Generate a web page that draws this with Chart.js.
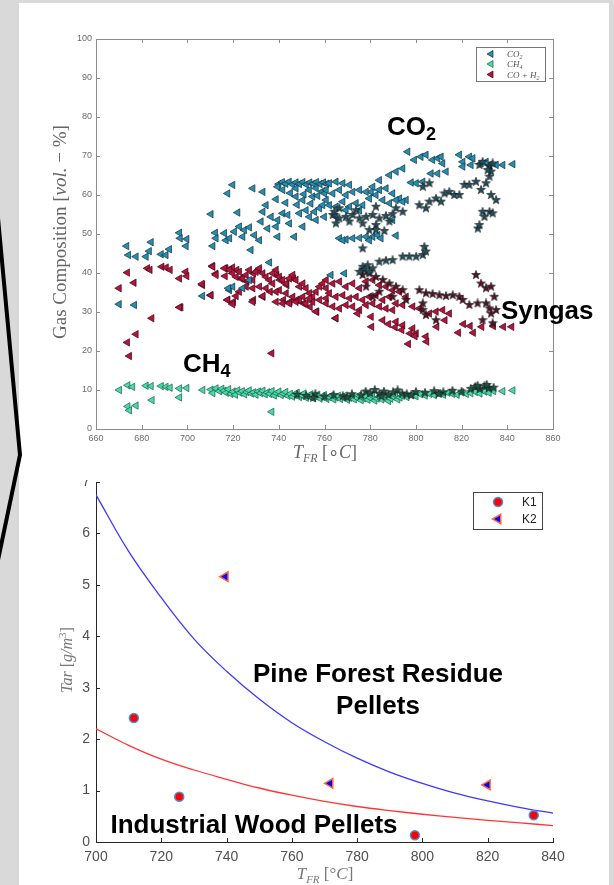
<!DOCTYPE html>
<html>
<head>
<meta charset="utf-8">
<script src="https://cdn.jsdelivr.net/npm/chart.js@4.4.0/dist/chart.umd.min.js"></script>
<style>
  html, body { margin: 0; padding: 0; }
  body { width: 614px; height: 885px; background: #d9d9d9; position: relative; overflow: hidden; }
  #panel { position: absolute; left: 19px; top: 3px; width: 590px; height: 882px; background: #fff; }
  canvas { position: absolute; left: 0; }
  #gasChart { top: 0; }
  #tarChart { top: 475px; clip-path: inset(5px 0 0 0); }
  #arrow { position: absolute; left: 0; top: 0; }
</style>
</head>
<body>
<div id="panel"></div>
<canvas id="gasChart" width="614" height="470"></canvas>
<canvas id="tarChart" width="614" height="410"></canvas>
<svg id="arrow" width="30" height="885"><polyline points="-2,218 20,455 -2,560" fill="none" stroke="#000" stroke-width="4"/></svg>
<script>
// ---- top chart: gas composition vs T_FR ----
const gasTicksX = [660, 680, 700, 720, 740, 760, 780, 800, 820, 840, 860];
const gasTicksY = [0, 10, 20, 30, 40, 50, 60, 70, 80, 90, 100];
const gasLegend = ['CO2', 'CH4', 'CO + H2'];

// CO2 (triangles) [T, vol-%]
const co2Points = [
  [673.4,46.9],[674.2,44.6],[677.5,44.2],[681.9,44.2],[684.1,47.9],[683.3,45.6],[688.5,44.8],[690.6,44.6],[692.1,46.1],
  [696.5,50.3],[696.8,48.9],[699.7,48.7],[699.4,46.9],[710.3,55.1],[711.1,46.9],[712.2,50.3],[712.5,48.9],[716.2,50.2],
  [717.6,60.4],[719.8,62.6],[716.9,48.4],[718.4,48.9],[720.5,50.6],[722.0,55.5],[722.7,51.9],[724.2,49.3],[724.9,51.0],
  [727.1,51.7],[727.8,45.9],[728.6,61.7],[729.3,49.7],[731.5,48.4],[732.2,53.2],[733.0,60.8],[733.0,55.7],[734.4,57.4],
  [735.1,51.4],[736.6,54.4],[738.8,58.9],[738.8,51.9],[739.5,53.6],
  [740,62.8],[741.5,63.3],[743,62.9],[744.5,63.4],[746,62.7],[747.5,63.2],[749,62.8],[750.5,63.3],[752,62.7],[753.5,63.2],
  [755,62.9],[756.5,63.3],[758,62.8],[759.5,63.2],[761,62.9],[739.5,62.1],[741.7,61.3],[747.5,61.7],[753.3,61.3],[756.3,61.7],[759.2,61.0],
  [741.7,55.3],[743.9,54.9],[744.6,52.7],[746.8,49.3],[747.5,59.6],[749,55.3],[750.5,58.7],[750.5,51.9],[751.9,56.1],[753.4,54.4],
  [754.8,59.6],[755.6,55.7],[756.3,53.6],[757.8,56.6],[759.2,57.4],[759.9,54.4],[739.5,49.3],[745,60.5],[751,60.2],[757,59.8],
  [760,60.4],[748,57.5],[754,57.8],[743,58.0],
  [718.4,35.6],[719.8,36.5],[727.1,38.2],[724.2,36.1],[735.9,42.7],[670.1,32.0],[676.8,31.8],[706.6,34.1],[717.9,36.1],
  [796.4,71.1],[799.3,69.0],[802.2,69.8],[804.4,70.3],[807.3,69.0],[809.5,69.4],[811,69.8],[811.7,68.1],[813.2,66.0],[809.5,65.5],
  [806.6,65.5],[803,63.4],[800.1,63.0],[797.9,63.2],[794.2,66.8],[791.3,66.0],[788.4,65.1],[784,63.8],[780.4,60.8],[819,70.3],
  [820.5,68.5],[823.4,69.8],[824.9,69.4],[824.1,67.7],[828.5,68.1],[832.2,67.7],[835.1,67.7],[838,67.7],[842.4,67.9],[830.7,68.5],[820.5,67.3],
  [762.1,63.0],[765,63.4],[768,63.0],[770.9,62.6],[760.7,61.3],[763.6,60.4],[766.5,61.3],[769.4,60.0],[772.3,60.8],[775.3,61.3],
  [778.2,60.8],[781.1,62.1],[784,61.3],[786.9,61.7],[789.8,60.4],[792.8,59.1],[795.7,58.7],[762.1,57.4],[765,57.0],[768,58.3],
  [770.9,57.0],[773.8,57.9],[776.7,57.4],[779.6,59.1],[782.5,60.0],[785.5,58.7],[788.4,57.9],[791.3,58.7],[794.2,58.3],[760.7,58.7],
  [769.4,56.1],[775.3,56.1],[765,54.4],[789.8,53.6],
  [766.5,48.9],[769.4,48.6],[772.3,48.9],[775.3,49.0],[778.2,49.3],[781.1,49.3],[783.3,49.7],[784.7,48.9],[791.3,49.6],[768,48.4],[779.6,48.4],
  [762.8,39.5],[768.7,39.9]
];
// CO2 (stars)
const co2StarPoints = [
  [763.6,54.9],[766.5,54.0],[769.4,54.4],[772.3,54.9],[775.3,54.0],[778.2,54.4],[781.1,54.9],[784,54.0],[786.9,54.6],[789.8,55.1],
  [765,52.7],[770.9,53.2],[776.7,52.7],[782.5,52.3],[788.4,53.2],[764.3,55.7],[779.6,51.0],[782.5,51.0],[786.2,50.8],[776.7,46.3],
  [791.3,56.6],[794.2,55.7],[766.5,56.6],[773.8,56.1],[782.5,57.0],
  [801.5,57.4],[804.4,56.6],[805.9,58.3],[808.8,59.1],[811,58.3],[812.5,60.4],[814.6,60.8],[816.8,60.0],[819,60.0],[821.2,62.6],
  [823.4,62.6],[826.3,63.4],[828.5,61.3],[830.7,63.0],[832.2,64.7],[832.9,60.0],[835.1,58.7],[829.2,55.7],[832.2,55.7],[833.6,55.3],
  [827.1,51.4],[827.8,52.3],[830,54.4],[827.8,67.7],[829.2,68.5],[832.2,67.3],[832.9,66.0],[833.6,68.1],[831.4,66.4],[803,62.1],[805.9,63.0],
  [784,42.9],[786.9,43.2],[789.8,43.3],[794.2,44.2],[797.1,44.2],[800.1,44.2],[803,44.6],[803.7,46.7],[804.4,45.5],
  [776.7,41.6],[778.9,42.0],[781.1,41.2],[777.4,40.8],[779.6,40.3],[775.3,40.3]
];
// CH4 (triangles)
const ch4Points = [
  [670.2,10.0],[673.9,11.2],[676,10.8],[681.9,11.1],[684.1,11.0],[688.5,11.0],[690.6,10.8],[692.4,10.6],[696.5,10.4],[699.7,10.5],
  [706.7,10.0],[710.3,10.1],[711.1,9.2],[673.9,5.8],[674.6,4.8],[677.5,6.0],[684.5,7.4],[696.5,8.1],[736.9,4.4],[712.5,10.4],[714,9.7],
  [715,10.3],[716,9.8],[717,9.3],[718,10.2],[719,9.0],[720,9.6],[721,8.8],[722,9.9],[723,9.3],[724,9.7],[725,8.9],[726,9.5],[727,9.9],
  [728,9.1],[729,9.4],[730,8.8],[731,9.6],[732,9.2],[733,9.8],[734,8.9],[735,9.4],[736,9.0],[737,9.7],[738,8.6],[739,9.2],[740,9.6],
  [741,8.7],[742,9.1],[743,9.5],[744,8.5],[745,9.0],[746,8.3],[747,8.8],[748,9.3],[749,8.2],[750,8.7],[751,9.1],[752,8.0],[753,8.5],
  [754,8.9],[755,7.9],[756,8.4],[757,8.8],[758,7.8],[759,8.3],[760,8.7],[761,7.7],[762,8.2],[763,8.6],[764,7.6],[765,8.1],[766,8.5],
  [767,7.7],[768,8.2],[769,8.6],[770,7.5],[771,8.0],[772,8.4],[773,7.6],[774,8.1],[775,8.6],[776,7.4],[777,7.9],[778,8.4],[779,7.5],
  [780,8.0],[781,8.5],[782,7.3],[783,7.8],[784,8.3],[785,7.6],[786,8.1],[787,8.6],[788,7.2],[789,7.8],[790,8.3],[791,8.7],[792,7.6],
  [793,8.1],[794,8.5],[796,8.2],[798,8.7],[800,8.4],[802,8.9],[804,8.6],[806,9.0],[808,8.7],[810,9.2],[812,8.8],[814,9.3],[816,9.0],
  [818,8.8],[820,9.4],[822,9.0],[824,9.2],[826,9.5],[828,9.1],[830,9.6],[832,9.3],[834,9.7],[838,9.7],[842.4,9.9]
];
// CH4 (stars)
const ch4StarPoints = [
  [748,8.8],[752,8.5],[756,8.9],[760,8.3],[764,8.7],[768,8.4],[772,8.9],[776,8.6],[778,9.6],[780,9.2],[782,10.0],[784,9.0],
  [786,9.6],[788,8.8],[790,9.4],[792,9.9],[794,9.1],[796,8.9],[800,9.5],[804,9.3],[808,9.7],[812,9.4],[816,9.8],[820,9.6],
  [824,10.3],[826,10.8],[828,10.3],[830,10.9],[832,10.5],[834,10.6],[827,11.1],[831,11.3],[755,8.0],[770,8.1],[785,8.4],[798,8.7],[810,9.0]
];
// CO + H2 (triangles)
const syngasPoints = [
  [670.1,36.1],[673.7,40.1],[676.6,37.5],[673.7,22.2],[674.6,18.7],[677.5,24.3],[684.4,28.4],[682.5,41.2],[683.6,40.8],[688.8,41.6],
  [690.7,41.4],[692.4,40.8],[696.5,38.6],[699.3,40.3],[699.7,39.2],[697.1,31.2],[706.6,36.9],[710.2,34.3],[710.9,41.8],[712.4,39.8],
  [716.5,39.2],[716.8,41.2],[719.7,41.4],[721.6,40.8],[717.6,33.1],[720.1,32.6],[723.3,38.6],[726.0,37.8],[728.9,39.9],[731.1,40.8],
  [728.9,33.1],[733.0,33.9],[736.9,19.4],[736.2,35.2],[739.1,39.5],[740.5,38.2],[743.5,36.9],[746.4,38.6],[742.0,33.1],[744.9,32.6],
  [747.8,33.1],[750.8,32.2],[753.7,31.3],[756.6,30.1],[764.9,28.4],
  [716.2,41.2],[718.4,40.8],[719.8,39.9],[721.3,39.0],[722.7,40.3],[724.2,38.6],[725.7,39.5],[727.1,40.8],[728.6,38.2],[730,40.3],
  [731.5,41.2],[733,39.9],[734.4,39.0],[735.9,38.2],[737.3,39.9],[738.8,40.8],[740.2,39.0],[741.7,38.2],[743.2,37.3],[744.6,38.6],
  [746.1,39.5],[747.5,38.2],[749,36.5],[750.5,37.3],[751.9,36.1],[753.4,34.8],[754.8,33.9],[756.3,35.2],[757.8,36.5],[759.2,37.3],
  [760.7,36.1],[722.7,35.2],[725.7,36.5],[728.6,36.1],[731.5,36.5],[734.4,36.1],[737.3,37.3],[740.2,35.6],[743.2,34.8],[746.1,33.9],
  [749,33.1],[751.9,32.2],[754.8,32.6],[757.8,33.1],[760.7,33.5],[738.8,32.6],[741.7,32.2],[744.6,32.2],[747.5,32.6],[750.5,33.9],
  [753.4,33.5],[756.3,30.1],[711.1,41.6],[712.5,39.5],[717.6,33.1],[719.8,32.0],[721.3,34.1],[728.6,32.6],[733,34.1],[738.8,35.2],
  [696.5,31.2],[706.4,37.2],[710.3,34.3],
  [760.7,38.2],[763.6,37.3],[766.5,37.8],[769.4,36.5],[772.3,37.3],[775.3,36.1],[778.2,37.8],[781.1,38.2],[784,36.9],[786.9,36.5],
  [789.8,35.6],[792.8,35.2],[762.1,34.8],[765,33.9],[768,34.3],[770.9,33.5],[773.8,33.9],[776.7,33.1],[779.6,33.9],[782.5,34.3],
  [785.5,33.1],[788.4,33.9],[791.3,32.2],[794.2,31.8],[760.7,32.2],[763.6,31.4],[766.5,30.9],[769.4,31.8],[772.3,31.4],[775.3,30.5],
  [778.2,31.8],[781.1,32.2],[784,31.4],[786.9,30.9],[789.8,30.5],[765,28.4],[774.5,29.6],[780.4,28.8],[785.5,27.9],[791.3,27.5],
  [794.2,26.6],[798.6,25.8],[800.1,24.5],[804.4,23.7],[798.6,31.4],[801.5,30.9],[805.9,29.6],[808.8,30.1],[811.7,30.5],[814.6,29.6],[795.7,33.9],
  [780.6,26.2],[788.0,26.9],[790.9,26.1],[793.8,25.4],[797.4,24.5],[799.6,23.8],[796.7,21.8],[804.7,22.4],[809.1,26.2],[812.7,27.9],
  [818.6,24.7],[825.1,24.7],[820.8,26.9],[823.7,26.4],[828.8,26.2],[833.9,26.4],[838.3,26.2],[841.9,26.2]
];
// CO + H2 (stars)
const syngasStarPoints = [
  [776.7,39.5],[779.6,39.9],[782.5,39.0],[785.5,38.2],[788.4,37.3],[791.3,36.5],[794.2,35.6],[778.2,36.5],[784,35.2],[789.8,33.9],
  [795.7,33.1],[781.1,33.9],[801.5,35.6],[804.4,34.8],[807.3,34.6],[810.3,34.3],[813.2,34.1],[816.1,34.3],[819,33.9],[820.5,33.1],
  [823.4,31.8],[827,32.2],[826.3,39.5],[828.5,37.3],[830.7,36.1],[832.9,36.5],[834.3,33.9],[830.7,32.2],[832.2,30.9],[832.9,29.6],
  [835.1,30.5],[829.2,27.9],[833.6,27.1],[803,30.5],[804.4,29.2],[808.8,27.9],[803,32.2]
];

// ---- bottom chart: tar vs T_FR ----
const tarTicksX = [700, 720, 740, 760, 780, 800, 820, 840];
const tarTicksY = [0, 1, 2, 3, 4, 5, 6, 7];
const k1Temp = [711.6, 725.5, 797.7, 834.1];
const k1Tar = [2.41, 0.88, 0.13, 0.52];
const k2Temp = [739.6, 771.7, 819.9];
const k2Tar = [5.16, 1.14, 1.11];
const fitTemp = [700, 710, 720, 730, 740, 750, 760, 770, 780, 790, 800, 810, 820, 830, 840];
const pineFit = [6.75, 5.65, 4.75, 3.95, 3.32, 2.78, 2.32, 1.95, 1.63, 1.36, 1.14, 0.95, 0.80, 0.67, 0.56];
const woodFit = [2.2, 1.88, 1.61, 1.40, 1.22, 1.05, 0.91, 0.79, 0.69, 0.61, 0.54, 0.48, 0.42, 0.37, 0.32];

const SANS = '"Liberation Sans", Arial, sans-serif';
const SERIF = '"Liberation Serif", "Times New Roman", serif';
const TAR_TOP = 475; // page y of the bottom canvas

const colors = {
  co2: '#2190b5', co2Edge: '#17313a', co2Star: '#24505e',
  ch4: '#45dcaa', ch4Edge: '#1f5a47', ch4Star: '#1f5545',
  syn: '#b8123d', synEdge: '#3a0914', synStar: '#521628'
};

function toXY(pts) { return pts.map(p => ({ x: p[0], y: p[1] })); }
function zipXY(xs, ys) { return xs.map((x, i) => ({ x: x, y: ys[i] })); }

function makeStar(fill) {
  const c = document.createElement('canvas');
  c.width = 10; c.height = 10;
  const g = c.getContext('2d');
  g.beginPath();
  for (let i = 0; i < 10; i++) {
    const r = i % 2 ? 1.9 : 4.6;
    const a = -Math.PI / 2 + i * Math.PI / 5;
    g.lineTo(5 + r * Math.cos(a), 5 + r * Math.sin(a));
  }
  g.closePath();
  g.fillStyle = fill; g.fill();
  g.strokeStyle = '#111'; g.lineWidth = 0.6; g.stroke();
  return c;
}

// draws a run of text pieces [text, font, dy]
function drawRich(ctx, parts, x, y, align) {
  let w = 0;
  parts.forEach(p => { ctx.font = p[1]; w += ctx.measureText(p[0]).width; });
  let cx = align === 'center' ? x - w / 2 : x;
  parts.forEach(p => {
    ctx.font = p[1];
    ctx.fillText(p[0], cx, y + (p[2] || 0));
    cx += ctx.measureText(p[0]).width;
  });
}

function tri(data, fill, edge) {
  return {
    data: toXY(data), pointStyle: 'triangle', pointRotation: -90, pointRadius: 4.3,
    backgroundColor: fill, borderColor: edge, borderWidth: 0.7
  };
}
function star(data, fill) {
  return { data: toXY(data), pointStyle: makeStar(fill), pointRadius: 4, backgroundColor: fill, borderColor: '#111' };
}

const gasFrame = {
  id: 'gasFrame',
  afterDraw(chart) {
    const { ctx, chartArea: a, scales: { x, y } } = chart;
    ctx.save();
    ctx.strokeStyle = '#8c8c8c';
    ctx.lineWidth = 1;
    ctx.strokeRect(a.left + 0.5, a.top + 0.5, a.right - a.left, a.bottom - a.top);
    ctx.beginPath();
    gasTicksX.forEach(v => {
      const px = Math.round(x.getPixelForValue(v)) + 0.5;
      ctx.moveTo(px, a.bottom); ctx.lineTo(px, a.bottom - 4);
      ctx.moveTo(px, a.top); ctx.lineTo(px, a.top + 4);
    });
    gasTicksY.forEach(v => {
      const py = Math.round(y.getPixelForValue(v)) + 0.5;
      ctx.moveTo(a.left, py); ctx.lineTo(a.left + 4, py);
      ctx.moveTo(a.right, py); ctx.lineTo(a.right - 4, py);
    });
    ctx.stroke();

    // legend box
    ctx.fillStyle = '#fff';
    ctx.fillRect(476, 47, 69, 34);
    ctx.strokeStyle = '#777';
    ctx.strokeRect(476.5, 47.5, 69, 34);
    const marks = [[colors.co2, colors.co2Edge], [colors.ch4, colors.ch4Edge], [colors.syn, colors.synEdge]];
    const subs = [['CO', '2'], ['CH', '4'], ['CO + H', '2']];
    [54, 64, 74.5].forEach((ly, i) => {
      ctx.fillStyle = marks[i][0];
      ctx.strokeStyle = marks[i][1];
      ctx.lineWidth = 0.7;
      Chart.helpers.drawPoint(ctx, { pointStyle: 'triangle', radius: 4, rotation: -90, borderWidth: 0.7 }, 491, ly);
      ctx.fillStyle = '#555';
      ctx.textBaseline = 'alphabetic';
      drawRich(ctx, [[subs[i][0], 'italic 9px ' + SERIF], [subs[i][1], 'italic 6px ' + SERIF, 2]], 507, ly + 3, 'left');
    });

    // axis titles
    ctx.fillStyle = '#666';
    drawRich(ctx, [['T', 'italic 18px ' + SERIF], ['FR', 'italic 12px ' + SERIF, 4], [' [', '18px ' + SERIF],
      ['\u2218', '18px ' + SERIF], ['C', 'italic 18px ' + SERIF], [']', '18px ' + SERIF]], 325, 458, 'center');
    ctx.save();
    ctx.translate(66, 232);
    ctx.rotate(-Math.PI / 2);
    drawRich(ctx, [['Gas Composition [', '19px ' + SERIF], ['vol.', 'italic 19px ' + SERIF],
      [' \u2212 %]', '19px ' + SERIF]], 0, 0, 'center');
    ctx.restore();

    // labels on the plot
    ctx.fillStyle = '#000';
    drawRich(ctx, [['CO', 'bold 26px ' + SANS], ['2', 'bold 18px ' + SANS, 5]], 387, 135, 'left');
    drawRich(ctx, [['CH', 'bold 26px ' + SANS], ['4', 'bold 18px ' + SANS, 5]], 183, 372, 'left');
    drawRich(ctx, [['Syngas', 'bold 26px ' + SANS]], 501, 319, 'left');
    ctx.restore();
  }
};

new Chart(document.getElementById('gasChart'), {
  type: 'scatter',
  data: {
    labels: gasLegend,
    datasets: [
      star(co2StarPoints, colors.co2Star),
      star(syngasStarPoints, colors.synStar),
      star(ch4StarPoints, colors.ch4Star),
      tri(co2Points, colors.co2, colors.co2Edge),
      tri(ch4Points, colors.ch4, colors.ch4Edge),
      tri(syngasPoints, colors.syn, colors.synEdge)
    ]
  },
  options: {
    responsive: false,
    animation: false,
    events: [],
    layout: { padding: { top: 39, right: 61, left: 0, bottom: 0 } },
    plugins: { legend: { display: false }, tooltip: { enabled: false } },
    scales: {
      x: {
        min: 660, max: 860,
        afterBuildTicks(s) { s.ticks = gasTicksX.map(v => ({ value: v })); },
        ticks: { color: '#6b6b6b', font: { family: SANS, size: 9 }, padding: 4, maxRotation: 0 },
        grid: { display: false, drawTicks: false },
        border: { display: false },
        afterFit(s) { s.height = 41; }
      },
      y: {
        min: 0, max: 100,
        afterBuildTicks(s) { s.ticks = gasTicksY.map(v => ({ value: v })); },
        ticks: { color: '#6b6b6b', font: { family: SANS, size: 9 }, padding: 4 },
        grid: { display: false, drawTicks: false },
        border: { display: false },
        afterFit(s) { s.width = 96; }
      }
    }
  },
  plugins: [gasFrame]
});

const tarFrame = {
  id: 'tarFrame',
  afterDraw(chart) {
    const { ctx, chartArea: a, scales: { x, y } } = chart;
    const Y = v => v - TAR_TOP; // page y -> canvas y
    ctx.save();
    ctx.strokeStyle = '#262626';
    ctx.lineWidth = 1;
    ctx.beginPath();
    tarTicksX.forEach(v => {
      const px = Math.round(x.getPixelForValue(v)) + 0.5;
      ctx.moveTo(px, a.bottom); ctx.lineTo(px, a.bottom - 4);
    });
    tarTicksY.forEach(v => {
      const py = Math.round(y.getPixelForValue(v)) + 0.5;
      ctx.moveTo(a.left, py); ctx.lineTo(a.left + 4, py);
    });
    ctx.stroke();

    // legend
    ctx.fillStyle = '#fff';
    ctx.fillRect(473, Y(492), 69, 37);
    ctx.strokeStyle = '#444';
    ctx.strokeRect(473.5, Y(492) + 0.5, 69, 37);
    ctx.lineWidth = 1.5;
    ctx.fillStyle = '#ff0000'; ctx.strokeStyle = '#4a90d9';
    Chart.helpers.drawPoint(ctx, { pointStyle: 'circle', radius: 4.5, borderWidth: 1.5 }, 498, Y(502));
    ctx.fillStyle = '#0000ff'; ctx.strokeStyle = '#ff6a3d';
    Chart.helpers.drawPoint(ctx, { pointStyle: 'triangle', radius: 5.5, rotation: -90, borderWidth: 1.5 }, 498, Y(519));
    ctx.fillStyle = '#222';
    ctx.textBaseline = 'middle';
    ctx.font = '12px ' + SANS;
    ctx.fillText('K1', 522, Y(503));
    ctx.fillText('K2', 522, Y(520));
    ctx.textBaseline = 'alphabetic';

    // axis titles
    ctx.fillStyle = '#777';
    drawRich(ctx, [['T', 'italic 17px ' + SERIF], ['FR', 'italic 11px ' + SERIF, 4], [' [', '17px ' + SERIF],
      ['\u00b0', '17px ' + SERIF], ['C', 'italic 17px ' + SERIF], [']', '17px ' + SERIF]], 325, Y(879), 'center');
    ctx.save();
    ctx.translate(72, Y(660));
    ctx.rotate(-Math.PI / 2);
    drawRich(ctx, [['Tar ', 'italic 16px ' + SERIF], ['[', '16px ' + SERIF], ['g/m', 'italic 16px ' + SERIF],
      ['3', '11px ' + SERIF, -6], [']', '16px ' + SERIF]], 0, 0, 'center');
    ctx.restore();

    // labels on the plot
    ctx.fillStyle = '#000';
    drawRich(ctx, [['Pine Forest Residue', 'bold 26px ' + SANS]], 378, Y(682), 'center');
    drawRich(ctx, [['Pellets', 'bold 26px ' + SANS]], 378, Y(714), 'center');
    drawRich(ctx, [['Industrial Wood Pellets', 'bold 26px ' + SANS]], 254, Y(833), 'center');
    ctx.restore();
  }
};

new Chart(document.getElementById('tarChart'), {
  type: 'scatter',
  data: {
    datasets: [
      { label: 'K1', data: zipXY(k1Temp, k1Tar), pointStyle: 'circle', pointRadius: 4.5,
        backgroundColor: '#ff0000', borderColor: '#4a90d9', borderWidth: 1.5 },
      { label: 'K2', data: zipXY(k2Temp, k2Tar), pointStyle: 'triangle', pointRotation: -90, pointRadius: 5.5,
        backgroundColor: '#0000ff', borderColor: '#ff6a3d', borderWidth: 1.5 },
      { label: 'pine', data: zipXY(fitTemp, pineFit), showLine: true, pointRadius: 0, tension: 0.4,
        borderColor: '#3a3aff', borderWidth: 1.3 },
      { label: 'wood', data: zipXY(fitTemp, woodFit), showLine: true, pointRadius: 0, tension: 0.4,
        borderColor: '#ff3535', borderWidth: 1.3 }
    ]
  },
  options: {
    responsive: false,
    animation: false,
    events: [],
    layout: { padding: { top: 2, right: 61, left: 0, bottom: 0 } },
    plugins: { legend: { display: false }, tooltip: { enabled: false } },
    scales: {
      x: {
        min: 700, max: 840,
        afterBuildTicks(s) { s.ticks = tarTicksX.map(v => ({ value: v })); },
        ticks: { color: '#505050', font: { family: SANS, size: 14 }, padding: 7, maxRotation: 0 },
        grid: { display: false, drawTicks: false },
        border: { color: '#262626', width: 1 },
        afterFit(s) { s.height = 43; }
      },
      y: {
        min: 0, max: 7,
        afterBuildTicks(s) { s.ticks = tarTicksY.map(v => ({ value: v })); },
        ticks: { color: '#505050', font: { family: SANS, size: 14 }, padding: 6 },
        grid: { display: false, drawTicks: false },
        border: { color: '#262626', width: 1 },
        afterFit(s) { s.width = 96; s.paddingTop = 0; s.paddingBottom = 0; }
      }
    }
  },
  plugins: [tarFrame]
});
</script>
</body>
</html>
